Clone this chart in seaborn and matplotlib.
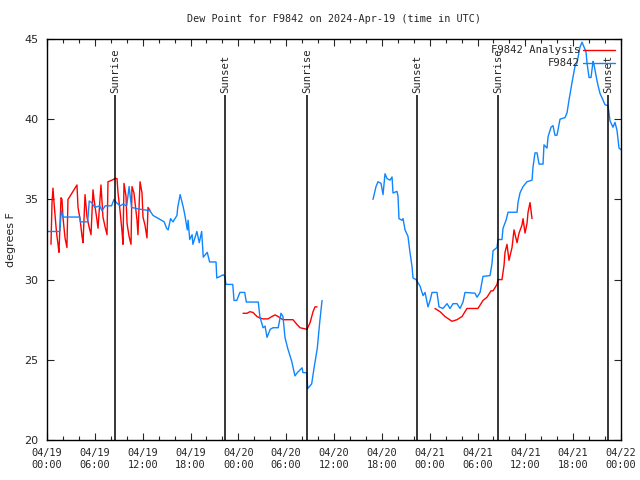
import pandas as pd
import numpy as np
import seaborn as sns
import matplotlib.pyplot as plt
import matplotlib.dates as mdates
from matplotlib.lines import Line2D

# hours since 2024-04-19 00:00 UTC, dew point in F
obs_h1 = [0.1, 1.6, 1.8, 2.0, 4.1, 4.2, 5.1, 5.3, 5.6, 6.0, 6.6, 6.9, 7.3, 8.1, 8.4, 8.7,
          9.2, 9.5, 10.0, 10.3, 10.6, 11.5, 12.9, 13.3, 14.0, 14.7, 15.0, 15.2, 15.5, 15.8,
          16.3, 16.4, 16.7, 17.1, 17.3, 17.6, 17.7, 17.9, 18.2, 18.3, 18.8, 19.1, 19.4, 19.6,
          20.1, 20.4, 21.2, 21.3, 22.1, 22.3, 22.45, 23.3, 23.46, 23.8, 24.2, 24.8, 25.0,
          25.8, 26.5, 26.7, 27.1, 27.35, 27.6, 28.0, 28.35, 29.0, 29.35, 29.6, 29.85, 30.2,
          30.7, 31.1, 31.4, 32.0, 32.1, 32.6, 32.7, 33.2, 33.5, 33.9, 34.2, 34.5]
obs_v1 = [33.0, 33.0, 34.3, 33.9, 33.9, 33.6, 33.6, 34.9, 34.8, 34.5, 34.6, 34.3, 34.6, 34.6,
          35.0, 34.8, 34.6, 34.7, 34.6, 35.8, 34.5, 34.4, 34.3, 34.0, 33.8, 33.6, 33.2, 33.1,
          33.8, 33.6, 34.0, 34.5, 35.3, 34.5, 34.0, 33.1, 33.7, 32.5, 32.8, 32.2, 33.0, 32.3,
          33.0, 31.4, 31.7, 31.1, 31.1, 30.1, 30.3, 30.2, 29.7, 29.7, 28.7, 28.7, 29.2, 29.2,
          28.6, 28.6, 28.6, 27.7, 27.0, 27.1, 26.4, 26.9, 27.0, 27.0, 27.9, 27.7, 26.4, 25.7,
          24.9, 24.0, 24.2, 24.5, 24.2, 24.2, 23.2, 23.5, 24.5, 25.7, 27.3, 28.7]

obs_h2 = [40.89, 41.27, 41.52, 41.9, 42.15, 42.4, 42.65, 43.03, 43.28, 43.4, 43.9, 44.03,
          44.15, 44.53, 44.66, 44.91, 45.28, 45.53, 45.79, 45.91, 46.29, 46.54, 46.79, 47.17,
          47.42, 47.79, 48.05, 48.3, 48.92, 49.17, 49.67, 50.18, 50.55, 50.93, 51.43, 51.81,
          52.18, 52.43, 53.69, 53.94, 54.32, 54.69, 55.57, 55.82, 55.95, 56.45, 56.57, 57.07,
          57.2, 57.58, 57.83, 58.96, 59.08, 59.33, 59.71, 60.21, 60.84, 60.96, 61.21, 61.47,
          61.72, 62.22, 62.34, 62.72, 62.85, 63.22, 63.47, 63.72, 63.97, 64.35, 64.98, 65.23,
          65.48, 65.86, 66.23, 66.48, 66.86, 67.11, 67.36, 67.61, 67.74, 67.99, 68.24, 68.49,
          68.61, 68.99, 69.12, 69.37, 69.74, 69.99, 70.37, 70.62, 70.99, 71.25, 71.5, 71.75, 72.0]
obs_v2 = [35.0, 35.8, 36.1, 36.0, 35.3, 36.6, 36.3, 36.2, 36.4, 35.4, 35.5, 35.2, 33.8, 33.7,
          33.8, 33.1, 32.7, 31.7, 30.8, 30.1, 30.0, 29.8, 29.6, 29.0, 29.2, 28.3, 28.7, 29.2,
          29.2, 28.3, 28.2, 28.5, 28.2, 28.5, 28.5, 28.2, 28.6, 29.2, 29.15, 28.9, 29.2, 30.2,
          30.25, 31.0, 31.8, 32.0, 32.5, 32.5, 33.2, 33.7, 34.2, 34.2, 34.8, 35.4, 35.8, 36.1,
          36.2, 37.0, 37.9, 37.9, 37.2, 37.2, 38.4, 38.2, 38.9, 39.5, 39.6, 39.0, 39.0, 40.0,
          40.1, 40.4, 41.2, 42.3, 43.3, 43.5, 44.5, 44.8, 44.5, 44.2, 43.5, 42.6, 42.6, 43.6,
          43.4, 42.4, 42.1, 41.6, 41.2, 40.9, 40.85, 39.9, 39.5, 39.8, 39.3, 38.2, 38.1]

ana_h1 = [0.5, 0.63, 0.75, 0.88, 1.13, 1.25, 1.38, 1.5, 1.76, 1.88, 2.0, 2.26, 2.5, 2.63,
          2.89, 3.26, 3.51, 3.76, 3.89, 4.14, 4.39, 4.52, 4.77, 5.02, 5.27, 5.52, 5.77, 5.9,
          6.27, 6.4, 6.77, 7.02, 7.28, 7.53, 7.65, 8.15, 8.53, 8.78, 8.91, 9.16, 9.41, 9.53,
          9.66, 9.91, 10.04, 10.29, 10.54, 10.66, 10.91, 11.29, 11.41, 11.67, 11.92, 12.04,
          12.29, 12.54, 12.67, 12.92]
ana_v1 = [32.2, 34.8, 35.7, 34.8, 33.3, 32.7, 32.2, 31.7, 35.1, 35.0, 33.9, 32.6, 32.0, 35.0,
          35.2, 35.5, 35.7, 35.9, 34.5, 33.8, 32.7, 32.3, 35.3, 33.9, 33.3, 32.8, 35.6, 35.0,
          33.7, 33.2, 35.9, 33.9, 33.3, 32.8, 36.1, 36.2, 36.3, 36.3, 35.4, 34.3, 33.0, 32.2,
          36.0, 35.2, 33.5, 32.7, 32.2, 35.8, 35.4, 33.7, 32.8, 36.1, 35.4, 33.9, 33.4, 32.6,
          34.5, 34.3]

ana_h2 = [24.59, 25.09, 25.46, 25.84, 26.34, 26.72, 27.1, 27.72, 28.22, 28.6, 28.98, 29.6,
          30.86, 31.36, 31.74, 32.61, 32.99, 33.37, 33.62, 33.87]
ana_v2 = [27.9, 27.9, 28.0, 27.95, 27.7, 27.6, 27.55, 27.55, 27.7, 27.8, 27.7, 27.5, 27.5,
          27.2, 27.0, 26.9, 27.3, 28.0, 28.3, 28.3]

ana_h3 = [48.67, 49.3, 49.92, 50.8, 51.43, 52.06, 52.68, 53.44, 54.06, 54.69, 55.19, 55.7,
          55.95, 56.45, 56.57, 57.07, 57.33, 57.45, 57.7, 57.95, 58.33, 58.58, 58.96, 59.21,
          59.58, 59.71, 59.96, 60.21, 60.34, 60.59, 60.84]
ana_v3 = [28.2, 28.0, 27.7, 27.4, 27.5, 27.7, 28.2, 28.2, 28.2, 28.7, 28.9, 29.3, 29.3, 29.7,
          30.0, 30.0, 30.9, 31.7, 32.2, 31.2, 32.0, 33.1, 32.3, 32.9, 33.4, 33.8, 32.9, 33.5,
          34.2, 34.8, 33.8]

sun_labels = ['Sunrise', 'Sunset', 'Sunrise', 'Sunset', 'Sunrise', 'Sunset']
sun_hours = [8.53, 22.33, 32.61, 46.41, 56.57, 70.37]

start = pd.Timestamp('2024-04-19 00:00')


def make_df(pairs):
    frames = []
    for i, (h, v) in enumerate(pairs):
        frames.append(pd.DataFrame({'time': start + pd.to_timedelta(h, unit='h'),
                                    'value': v, 'seg': i}))
    return pd.concat(frames, ignore_index=True)


obs = make_df([(obs_h1, obs_v1), (obs_h2, obs_v2)])
ana = make_df([(ana_h1, ana_v1), (ana_h2, ana_v2), (ana_h3, ana_v3)])

sns.set_style('ticks')
plt.rcParams['font.family'] = ['DejaVu Sans Mono']
red = '#ff0000'
blue = '#0f85ff'

fig = plt.figure(figsize=(6.4, 4.8), dpi=100)
ax = fig.add_axes([47 / 640, 40 / 480, 574 / 640, 401 / 480])

sns.lineplot(data=ana, x='time', y='value', units='seg', estimator=None,
             color=red, lw=1.0, ax=ax)
sns.lineplot(data=obs, x='time', y='value', units='seg', estimator=None,
             color=blue, lw=1.0, ax=ax)

for lab, h in zip(sun_labels, sun_hours):
    t = start + pd.Timedelta(hours=h)
    ax.vlines(t, 20, 41.5, color='black', lw=1.1)
    ax.text(t, 41.65, lab, rotation=90, ha='center', va='bottom', fontsize=7.6)

ax.set_xlim(start, start + pd.Timedelta(hours=72))
ax.set_ylim(20, 45)
ax.set_yticks([20, 25, 30, 35, 40, 45])
ax.xaxis.set_major_locator(mdates.HourLocator(byhour=[0, 6, 12, 18]))
ax.xaxis.set_minor_locator(mdates.HourLocator(byhour=range(0, 24, 2)))
ax.xaxis.set_major_formatter(mdates.DateFormatter('%m/%d\n%H:%M'))
ax.tick_params(axis='both', which='major', direction='in', length=5, width=0.8,
               top=True, right=True, labelsize=7.4, pad=6)
ax.tick_params(axis='x', which='minor', direction='in', length=3, width=0.8, top=True)
for lab in ax.get_yticklabels():
    lab.set_family('DejaVu Sans')
    lab.set_fontsize(8)
for s in ax.spines.values():
    s.set_linewidth(1.0)
    s.set_color('black')

ax.set_xlabel('')
ax.set_ylabel('degrees F', family='DejaVu Sans', fontsize=8)
ax.yaxis.set_label_coords(-0.054, 0.5)
ax.set_title('Dew Point for F9842 on 2024-Apr-19 (time in UTC)', fontsize=7.3, pad=12)

handles = [Line2D([], [], color=red, lw=1.0), Line2D([], [], color=blue, lw=1.0)]
ax.legend(handles, ['F9842 Analysis', 'F9842'], loc='upper right', frameon=False,
          markerfirst=False, fontsize=7.6, handlelength=3.0, handletextpad=0.3,
          labelspacing=0.3, borderaxespad=0.2)

fig.savefig('out.png', dpi=100)
